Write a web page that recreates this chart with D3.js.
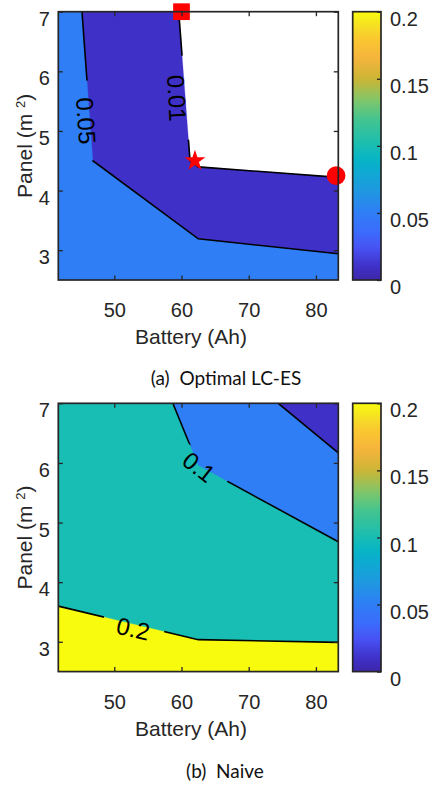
<!DOCTYPE html>
<html>
<head>
<meta charset="utf-8">
<script src="https://cdn.jsdelivr.net/npm/d3@7"></script>
<style>
  body { margin: 0; background: #fff; }
  svg { display: block; }
  text { font-family: "Liberation Sans", Arial, sans-serif; fill: #262626; }
  .caption { font-family: Lato, "Open Sans", sans-serif; fill: #111; white-space: pre; }
</style>
</head>
<body>
<svg id="fig" width="432" height="786"></svg>
<script>
// grid the surfaces were sampled on
const battery = [41.67, 62.5, 83.33];   // Ah
const panel = [2.5, 4.5, 7];            // m^2

// rows follow panel[], columns follow battery[]
const optimalZ = [
  [0.090, 0.0729, 0.0638],
  [0.0642, 0.0066, 0.0013],
  [0.0598, 0.0019, 0.0]
];
const naiveZ = [
  [0.273, 0.230, 0.2305],
  [0.140, 0.118, 0.106],
  [0.158, 0.0871, 0.0221]
];

const levels = [0.01, 0.05, 0.1, 0.2];
const xTicks = [50, 60, 70, 80];
const yTicks = [3, 4, 5, 6, 7];
const cbTicks = [0, 0.05, 0.1, 0.15, 0.2];

// contour labels (inline, like clabel)
const optimalLabels = [
  {level: 0.05, battery: 45.8, panel: 5.17, angle: 86, gap: 80},
  {level: 0.01, battery: 59.3, panel: 5.55, angle: 87, gap: 84}
];
const naiveLabels = [
  {level: 0.1, battery: 62.6, panel: 5.93, angle: 38, gap: 62},
  {level: 0.2, battery: 52.8, panel: 3.22, angle: 13, gap: 62}
];

const optimalMarkers = [
  {shape: "square", battery: 60, panel: 7},
  {shape: "star", battery: 62, panel: 4.5},
  {shape: "circle", battery: 83, panel: 4.25}
];

const captions = ["(a)  Optimal LC-ES", "(b)  Naive"];

// parula-ish colormap
const parulaStops = [
  [0.00, "#3e26a8"], [0.05, "#3f30c8"], [0.12, "#4852f4"], [0.18, "#3b6cfb"],
  [0.25, "#2f7ef6"], [0.33, "#1f97e0"], [0.40, "#0fa9d2"], [0.45, "#06b4c6"],
  [0.50, "#18bdb3"], [0.60, "#44c48f"], [0.67, "#80c66a"], [0.75, "#cdb534"],
  [0.83, "#f6b43d"], [0.90, "#fac830"], [0.95, "#f5e123"], [1.00, "#f9fb0e"]
];
const parula = d3.scaleLinear()
  .domain(parulaStops.map(d => d[0]))
  .range(parulaStops.map(d => d[1]))
  .interpolate(d3.interpolateRgb)
  .clamp(true);
const cmax = 0.2;

const svg = d3.select("#fig");
const defs = svg.append("defs");

const W = {left: 58.3, right: 338.3, h: 268.3};
const cb = {left: 352.7, right: 381};
const axisColor = "#262626";
const fmt = d => String(d);

const x = d3.scaleLinear().domain([battery[0], battery[battery.length - 1]]).range([W.left, W.right]);

// contour grid index -> data value
function idxTo(arr, c) {
  const u = c - 0.5;
  if (u <= 0) return arr[0];
  if (u >= arr.length - 1) return arr[arr.length - 1];
  const i = Math.floor(u);
  return arr[i] + (arr[i + 1] - arr[i]) * (u - i);
}

// colorbar gradient
const grad = defs.append("linearGradient").attr("id", "parula")
  .attr("x1", 0).attr("y1", 1).attr("x2", 0).attr("y2", 0);
d3.range(0, 1.0001, 0.02).forEach(t => {
  grad.append("stop").attr("offset", t).attr("stop-color", parula(t));
});

function drawPanel(idx, top, Z, labels, markers) {
  const y = d3.scaleLinear().domain([panel[0], panel[panel.length - 1]]).range([top + W.h, top]);
  const g = svg.append("g");

  defs.append("clipPath").attr("id", "clip" + idx)
    .append("rect").attr("x", W.left).attr("y", top).attr("width", W.right - W.left).attr("height", W.h);

  const contours = d3.contours()
    .size([battery.length, panel.length])
    .thresholds(levels)(Z.flat());

  const proj = d3.geoTransform({
    point(cx, cy) { this.stream.point(x(idxTo(battery, cx)), y(idxTo(panel, cy))); }
  });
  const path = d3.geoPath(proj);

  const plot = g.append("g").attr("clip-path", `url(#clip${idx})`);
  plot.selectAll("path.fill")
    .data(contours)
    .join("path")
    .attr("class", "fill")
    .attr("d", path)
    .attr("fill", d => parula(d.value / cmax))
    .attr("stroke", d => parula(d.value / cmax))
    .attr("stroke-width", 0.3);

  // iso lines: ring edges without the parts lying on the plot border
  const bx = [battery[0], battery[battery.length - 1]];
  const by = [panel[0], panel[panel.length - 1]];
  const onEdge = (a, b) =>
    (a[0] === bx[0] && b[0] === bx[0]) || (a[0] === bx[1] && b[0] === bx[1]) ||
    (a[1] === by[0] && b[1] === by[0]) || (a[1] === by[1] && b[1] === by[1]);
  function linePath(c) {
    let s = "";
    c.coordinates.forEach(poly => poly.forEach(ring => {
      const pts = ring.map(p => [idxTo(battery, p[0]), idxTo(panel, p[1])]);
      let pen = false;
      for (let i = 1; i < pts.length; i++) {
        const a = pts[i - 1], b = pts[i];
        if (onEdge(a, b)) { pen = false; continue; }
        if (!pen) s += `M${x(a[0])},${y(a[1])}`;
        s += `L${x(b[0])},${y(b[1])}`;
        pen = true;
      }
    }));
    return s;
  }

  const mask = defs.append("mask").attr("id", "gaps" + idx).attr("maskUnits", "userSpaceOnUse")
    .attr("x", 0).attr("y", 0).attr("width", 432).attr("height", 786);
  mask.append("rect").attr("x", 0).attr("y", 0).attr("width", 432).attr("height", 786).attr("fill", "#fff");
  mask.selectAll("rect.gap")
    .data(labels)
    .join("rect")
    .attr("class", "gap")
    .attr("x", d => -d.gap / 2).attr("y", -12).attr("width", d => d.gap).attr("height", 24)
    .attr("transform", d => `translate(${x(d.battery)},${y(d.panel)}) rotate(${d.angle})`)
    .attr("fill", "#000");

  plot.append("g").attr("mask", `url(#gaps${idx})`)
    .selectAll("path")
    .data(contours)
    .join("path")
    .attr("d", linePath)
    .attr("fill", "none")
    .attr("stroke", "#000")
    .attr("stroke-width", 1.6);

  g.selectAll("text.clabel")
    .data(labels)
    .join("text")
    .attr("class", "clabel")
    .attr("transform", d => `translate(${x(d.battery)},${y(d.panel)}) rotate(${d.angle})`)
    .attr("text-anchor", "middle")
    .attr("dominant-baseline", "central")
    .style("font-size", "24px")
    .style("fill", "#000")
    .text(d => String(d.level));

  // markers
  const shapes = {square: [d3.symbolSquare, 279], star: [d3.symbolStar, 136], circle: [d3.symbolCircle, 275]};
  g.selectAll("path.marker")
    .data(markers)
    .join("path")
    .attr("class", "marker")
    .attr("d", d => d3.symbol().type(shapes[d.shape][0]).size(shapes[d.shape][1])())
    .attr("transform", d => `translate(${x(d.battery)},${y(d.panel)})`)
    .attr("fill", "#ff0000");

  // axes: ticks inside on all four sides
  const xb = g.append("g").attr("transform", `translate(0,${top + W.h})`)
    .call(d3.axisBottom(x).tickValues(xTicks).tickFormat(fmt).tickSizeInner(-4.5).tickSizeOuter(0).tickPadding(23));
  const xt = g.append("g").attr("transform", `translate(0,${top})`)
    .call(d3.axisTop(x).tickValues(xTicks).tickSizeInner(-4.5).tickSizeOuter(0).tickFormat(""));
  const yl = g.append("g").attr("transform", `translate(${W.left},0)`)
    .call(d3.axisLeft(y).tickValues(yTicks).tickFormat(fmt).tickSizeInner(-4.5).tickSizeOuter(0).tickPadding(8.5));
  const yr = g.append("g").attr("transform", `translate(${W.right},0)`)
    .call(d3.axisRight(y).tickValues(yTicks).tickSizeInner(-4.5).tickSizeOuter(0).tickFormat(""));
  [xb, xt, yl, yr].forEach(a => {
    a.select(".domain").remove();
    a.selectAll(".tick line").attr("stroke", axisColor).attr("stroke-width", 1.3);
    a.selectAll("text").style("font-size", "20px").style("fill", axisColor).attr("font-family", null);
  });
  yl.selectAll("text").attr("dy", "0.68em");

  g.append("rect")
    .attr("x", W.left).attr("y", top).attr("width", W.right - W.left).attr("height", W.h)
    .attr("fill", "none").attr("stroke", axisColor).attr("stroke-width", 1.7);

  // axis titles
  g.append("text")
    .attr("x", 191).attr("y", top + W.h + 64)
    .attr("text-anchor", "middle")
    .style("font-size", "21px")
    .text("Battery (Ah)");
  const yt = g.append("text")
    .attr("transform", `translate(31.5,${top + W.h / 2}) rotate(-90)`)
    .attr("text-anchor", "middle")
    .style("font-size", "21px");
  yt.append("tspan").text("Panel (m ");
  yt.append("tspan").attr("dy", -7).style("font-size", "13px").text("2");
  yt.append("tspan").attr("dy", 7).text(")");

  // colorbar
  const cy = d3.scaleLinear().domain([0, cmax]).range([top + W.h, top]);
  g.append("rect")
    .attr("x", cb.left).attr("y", top).attr("width", cb.right - cb.left).attr("height", W.h)
    .attr("fill", "url(#parula)");
  const ca = g.append("g").attr("transform", `translate(${cb.right},0)`)
    .call(d3.axisRight(cy).tickValues(cbTicks).tickSizeInner(-4).tickSizeOuter(0).tickPadding(9)
      .tickFormat(fmt));
  ca.select(".domain").remove();
  ca.selectAll(".tick line").attr("stroke", axisColor).attr("stroke-width", 1.3);
  ca.selectAll("text").style("font-size", "20px").style("fill", axisColor).attr("dy", "0.68em");
  g.append("rect")
    .attr("x", cb.left).attr("y", top).attr("width", cb.right - cb.left).attr("height", W.h)
    .attr("fill", "none").attr("stroke", axisColor).attr("stroke-width", 1.7);
}

drawPanel(0, 11.7, optimalZ, optimalLabels, optimalMarkers);
drawPanel(1, 403.3, naiveZ, naiveLabels, []);

svg.append("text").attr("class", "caption")
  .attr("x", 226).attr("y", 385).attr("text-anchor", "middle")
  .style("font-size", "19px").text(captions[0]);
svg.append("text").attr("class", "caption")
  .attr("x", 225).attr("y", 778).attr("text-anchor", "middle")
  .style("font-size", "19px").text(captions[1]);
</script>
</body>
</html>
